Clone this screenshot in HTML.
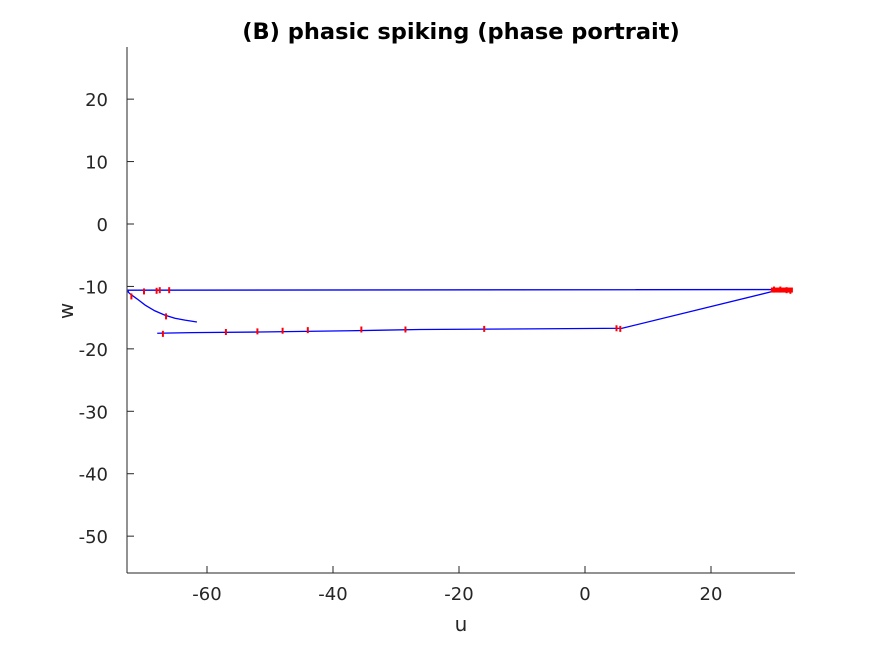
<!DOCTYPE html>
<html><head><meta charset="utf-8"><style>
body{margin:0;background:#fff;}
text{font-family:"DejaVu Sans","Liberation Sans",sans-serif;fill:#262626;}
</style></head><body>
<svg id="chart" width="891" height="645">
<rect width="891" height="645" fill="#fff"/>
<text x="461" y="39" text-anchor="middle" font-size="22.5" font-weight="bold" style="fill:#000">(B) phasic spiking (phase portrait)</text>
<g id="axes"></g>
<g id="plot"></g>
<text x="461" y="631" text-anchor="middle" font-size="20">u</text>
<text transform="translate(73,311) rotate(-90)" text-anchor="middle" font-size="20">w</text>
</svg>
<script>
const xTicks=[-60,-40,-20,0,20];
const yTicks=[20,10,0,-10,-20,-30,-40,-50];
const trajU=[-61.6,-63.5,-65.1,-66.7,-68.3,-69.8,-71.1,-72.2,-72.5,-72.5,31,5.9,-8.7,-26.2,-37.3,-51.6,-62.4,-67.9];
const trajW=[-15.7,-15.4,-15.1,-14.6,-13.9,-13.0,-12.0,-11.2,-10.9,-10.6,-10.5,-16.7,-16.8,-16.9,-17.1,-17.3,-17.4,-17.5];
const spikeU=[-72,-70,-68,-67.5,-66,-67,-57,-52,-48,-44,-35.5,-28.5,-16,5,5.6,30,31,32,32.6,-66.5];
const spikeW=[-11.6,-10.8,-10.7,-10.6,-10.6,-17.6,-17.3,-17.2,-17.1,-17,-16.9,-16.9,-16.8,-16.7,-16.8,-10.5,-10.5,-10.6,-10.7,-14.8];
const X=u=>585+u*6.3, Y=w=>224-w*6.243;
const ns='http://www.w3.org/2000/svg';
const ax=document.getElementById('axes'), pl=document.getElementById('plot');
function mk(t,a,p){const e=document.createElementNS(ns,t);for(const k in a)e.setAttribute(k,a[k]);p.appendChild(e);return e;}
const xl=mk('line',{x1:127,y1:573,x2:795,y2:573,stroke:'#262626'},ax);


const yl=mk('line',{x1:127,y1:47,x2:127,y2:573,stroke:'#262626'},ax);


xTicks.forEach(v=>{mk('line',{x1:X(v),x2:X(v),y1:573,y2:566,stroke:'#262626'},ax);
const t=mk('text',{x:X(v),y:600,'text-anchor':'middle','font-size':18},ax);t.textContent=v;

});
yTicks.forEach(v=>{mk('line',{x1:127,x2:134,y1:Y(v),y2:Y(v),stroke:'#262626'},ax);
const t=mk('text',{x:108,y:Y(v)+7,'text-anchor':'end','font-size':18},ax);t.textContent=v;

});
const path=mk('polyline',{points:trajU.map((u,i)=>X(u)+','+Y(trajW[i])).join(' '),fill:'none',stroke:'#0000ff','stroke-width':1.3},pl);


spikeU.forEach((u,i)=>{const r=mk('rect',{x:X(u)-1,y:Y(spikeW[i])-3,width:2,height:6,fill:'#ff0000'},pl);

});
const cl=mk('rect',{x:X(29.5),y:Y(-10.5)-2,width:X(33)-X(29.5),height:5,fill:'#ff0000'},pl);


</script>
</body></html>
